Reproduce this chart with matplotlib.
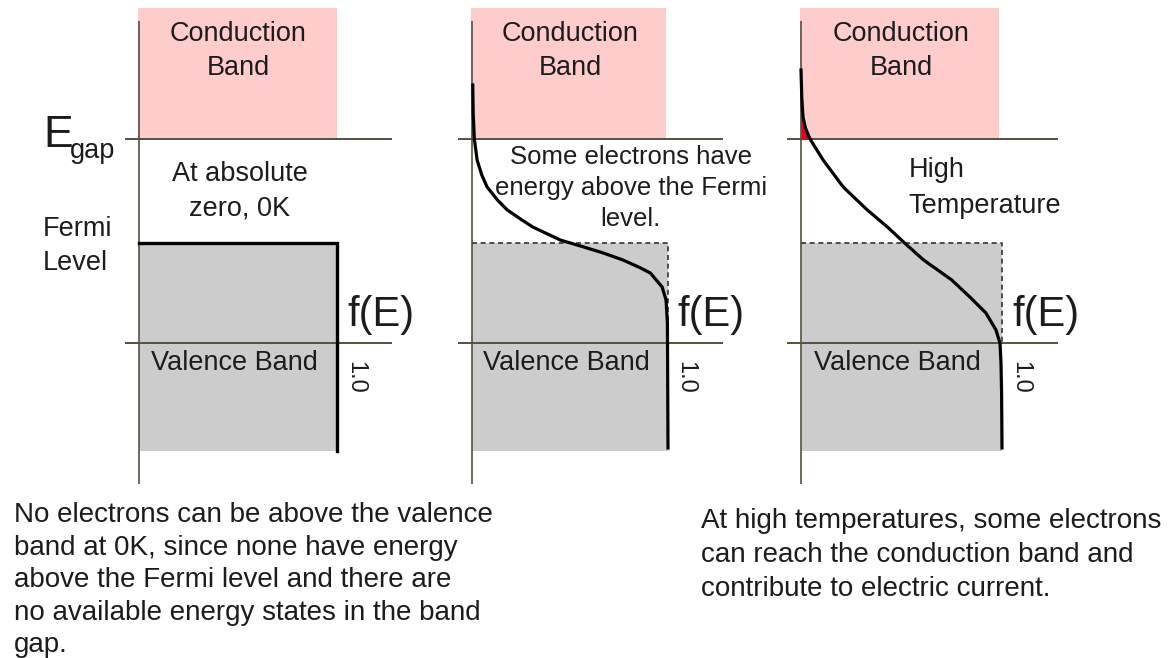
import matplotlib
matplotlib.use("Agg")
import matplotlib.pyplot as plt
from matplotlib.patches import Rectangle

plt.rcParams['font.family'] = ['Liberation Sans', 'DejaVu Sans']

# ---------------- data ----------------
# band energies (valence top = 0, Fermi level = 1)
E_valence_top = 0.0
E_fermi = 1.0
E_gap = 2.04
E_cond_top = 3.35
E_valence_bottom = -1.08

# panel 1: T = 0 K step function f(E)
step_E = [1.0, 1.0, -1.08]
step_f = [0.0, 1.0, 1.0]

# panel 2: moderate temperature f(E)
curve2_E = [2.58, 2.30, 2.04, 1.83, 1.68, 1.56, 1.43, 1.33, 1.23, 1.16, 1.03,
            0.96, 0.90, 0.83, 0.76, 0.70, 0.63, 0.56, 0.43, 0.20, -1.05]
curve2_f = [0.004, 0.006, 0.012, 0.026, 0.05, 0.077, 0.13, 0.18, 0.255, 0.31, 0.45,
            0.57, 0.67, 0.77, 0.85, 0.91, 0.94, 0.97, 0.99, 0.997, 1.0]

# panel 3: high temperature f(E)
curve3_E = [2.73, 2.45, 2.26, 2.15, 2.04, 1.83, 1.56, 1.33, 1.16, 1.01, 0.83,
            0.63, 0.46, 0.30, 0.13, 0.0, -0.2, -0.5, -1.05]
curve3_f = [0.0, 0.004, 0.01, 0.022, 0.045, 0.11, 0.21, 0.33, 0.43, 0.51, 0.61,
            0.75, 0.84, 0.92, 0.97, 0.99, 0.995, 0.998, 1.0]

band_labels = ["Conduction\nBand", "Valence Band"]
panel_notes = ["At absolute\nzero, 0K",
               "Some electrons have\nenergy above the Fermi\nlevel.",
               "High\nTemperature"]
axis_label = "f(E)"
tick_label = "1.0"
caption_left = ("No electrons can be above the valence\n"
                "band at 0K, since none have energy\n"
                "above the Fermi level and there are\n"
                "no available energy states in the band\n"
                "gap.")
caption_right = ("At high temperatures, some electrons\n"
                 "can reach the conduction band and\n"
                 "contribute to electric current.")

# ---------------- styles ----------------
W, H = 1169, 658
PINK = '#ffcccc'
GREY = '#cccccc'
LINE = '#55503f'
TXT = '#1c1c1c'
FS = 19.5

fig = plt.figure(figsize=(W / 100, H / 100), dpi=100)
fig.patch.set_facecolor('white')

panel_x0 = [139, 472, 801]
panel_w = [198, 196, 201]
cond_right = [1.0, 0.99, 0.985]


def make_ax(x0, w):
    ax = fig.add_axes([(x0 - 0.1 * w) / W, 0, 1.7 * w / W, 1])
    ax.set_xlim(-0.1, 1.6)
    ax.set_ylim((343 - H) / 100, 343 / 100)
    ax.axis('off')
    ax.patch.set_alpha(0)
    return ax


axes = [make_ax(x0, w) for x0, w in zip(panel_x0, panel_w)]

for i, ax in enumerate(axes):
    # bands
    ax.add_patch(Rectangle((-0.005, E_gap), cond_right[i] + 0.005, E_cond_top - E_gap,
                           facecolor=PINK, edgecolor='none', zorder=1))
    ax.add_patch(Rectangle((0, E_valence_bottom), 1.0, E_fermi - E_valence_bottom,
                           facecolor=GREY, edgecolor='none', zorder=1))
    # Egap and valence lines
    for e in (E_gap, E_valence_top):
        ax.plot([-0.07, 1.28], [e, e], color=LINE, lw=1.4, zorder=2,
                solid_capstyle='butt')
    # energy axis
    ax.plot([0, 0], [3.22, -1.41], color=LINE, lw=1.2, zorder=3,
            solid_capstyle='butt')
    # texts
    ax.text(0.5, 2.92, band_labels[0], ha='center', va='center', fontsize=FS,
            color=TXT, linespacing=1.43, zorder=5)
    ax.text(0.48, -0.2, band_labels[1], ha='center', va='center', fontsize=FS,
            color=TXT, zorder=5)
    ax.text(1.05, 0.28, axis_label, ha='left', va='center', fontsize=30,
            color=TXT, zorder=5)
    ax.text(1.09, -0.34, tick_label, ha='center', va='center', fontsize=17,
            rotation=270, color=TXT, zorder=5)

# panel 1
ax1 = axes[0]
ax1.plot(step_f, step_E, color='black', lw=2.4, zorder=4, solid_joinstyle='miter')
ax1.text(0.51, 1.52, panel_notes[0], ha='center', va='center', fontsize=FS,
         color=TXT, linespacing=1.43)
ax1.text(-0.485, 1.96, "E", ha='left', va='baseline', fontsize=32, color=TXT)
ax1.text(-0.35, 1.85, "gap", ha='left', va='baseline', fontsize=19.5, color=TXT)
ax1.text(-0.485, 0.97, "Fermi\nLevel", ha='left', va='center', fontsize=FS,
         color=TXT, linespacing=1.43)

# panels 2 and 3: dashed T=0 reference
for ax in axes[1:]:
    ax.plot([0, 1, 1], [E_fermi, E_fermi, E_valence_top], color='#333333', lw=1.2,
            ls=(0, (3, 2.2)), zorder=3)

ax2 = axes[1]
ax2.plot(curve2_f, curve2_E, color='black', lw=2.3, zorder=4)
ax2.text(0.81, 1.55, panel_notes[1], ha='center', va='center', fontsize=18.5,
         color=TXT, linespacing=1.36)

ax3 = axes[2]
sel = [k for k, e in enumerate(curve3_E) if e >= E_gap]
ax3.fill_betweenx([curve3_E[k] for k in sel], 0, [curve3_f[k] for k in sel],
                  color='#e2001f', lw=0, zorder=3.5)
ax3.plot(curve3_f, curve3_E, color='black', lw=2.3, zorder=4)
ax3.text(0.535, 1.55, panel_notes[2], ha='left', va='center', fontsize=FS,
         color=TXT, linespacing=1.48)

# captions
fig.text(14 / W, 1 - 502 / H, caption_left, ha='left', va='top', fontsize=20,
         color=TXT, linespacing=1.33)
fig.text(701 / W, 1 - 508 / H, caption_right, ha='left', va='top', fontsize=20,
         color=TXT, linespacing=1.4)

fig.savefig('out.png', dpi=100, facecolor='white')
